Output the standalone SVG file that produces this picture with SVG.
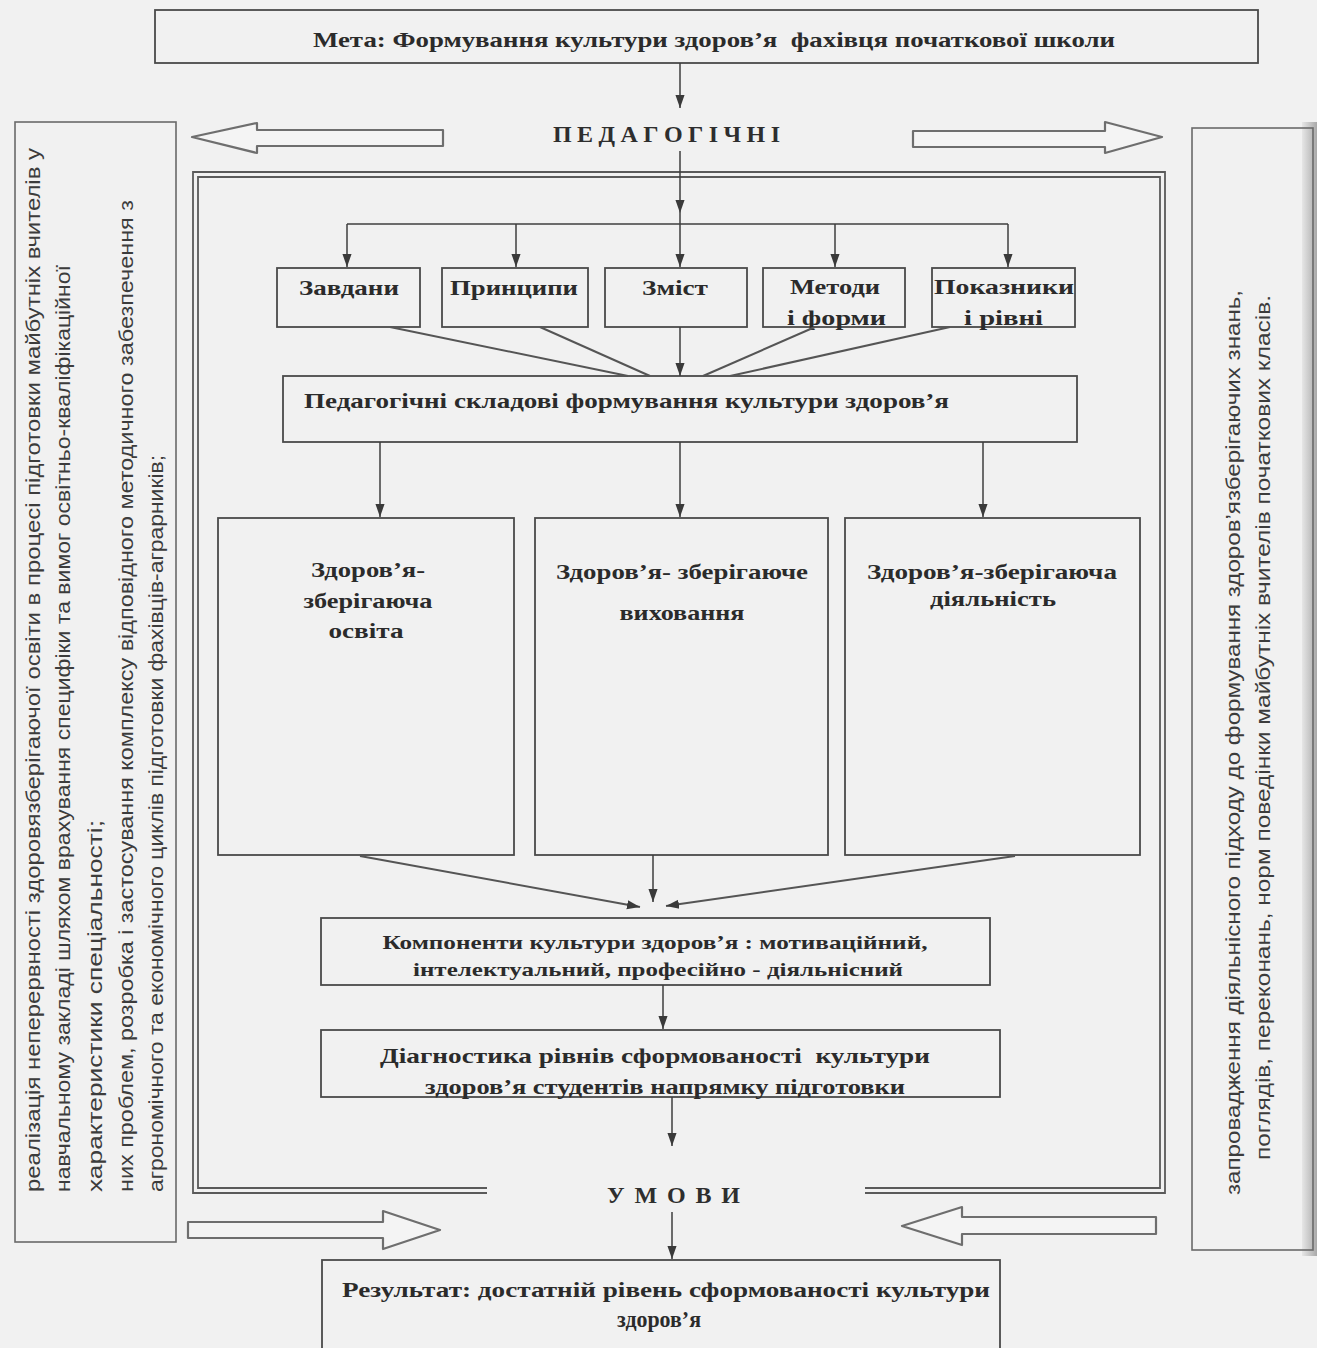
<svg xmlns="http://www.w3.org/2000/svg" width="1317" height="1348" viewBox="0 0 1317 1348">
<defs>
<marker id="ah" viewBox="0 0 10 10" refX="10" refY="5" markerWidth="13" markerHeight="13" orient="auto" markerUnits="userSpaceOnUse">
<path d="M0,1.5 L10,5 L0,8.5 z" fill="#3a3a3a"/>
</marker>
<linearGradient id="edge" x1="0" y1="0" x2="1" y2="0">
<stop offset="0" stop-color="#e6e6e6"/>
<stop offset="1" stop-color="#a9a9a9"/>
</linearGradient>
<style>
.bg{fill:#f1f1f1}
.box{fill:none;stroke:#4a4a4a;stroke-width:1.8}
.sbox{fill:none;stroke:#6a6a6a;stroke-width:1.6}
.frame{fill:none;stroke:#5a5a5a;stroke-width:1.8}
.ln{fill:none;stroke:#3e3e3e;stroke-width:1.5}
.sl{fill:none;stroke:#555;stroke-width:2}
.ha{fill:#f4f4f4;stroke:#6e6e6e;stroke-width:2.2;stroke-linejoin:round}
.t{font-family:"Liberation Serif","Times New Roman",serif;font-weight:bold;font-size:22px;fill:#2b2b2b}
.ts{font-family:"Liberation Serif","Times New Roman",serif;font-weight:bold;font-size:19px;fill:#2b2b2b}
.sp{font-family:"Liberation Serif","Times New Roman",serif;font-weight:bold;font-size:24px;fill:#2e2e2e}
.v{font-family:"Liberation Sans",Arial,sans-serif;font-size:20px;fill:#3c3c3c}
.vr{font-family:"Liberation Sans Narrow","Liberation Sans",Arial,sans-serif;font-size:20px;fill:#3c3c3c}
</style>
</defs>
<rect class="bg" x="0" y="0" width="1317" height="1348"/>
<rect x="1302" y="122" width="15" height="1134" fill="url(#edge)"/>

<g id="frame">
<path class="frame" d="M487,1193 H193 V172 H1165 V1193 H865"/>
<path class="frame" d="M487,1188 H198 V177 H1160 V1188 H865" stroke-width="1.3"/>
</g>

<g id="goal">
<rect class="box" x="155" y="10" width="1103" height="53"/>
<text class="t" x="313" y="47" textLength="802" lengthAdjust="spacingAndGlyphs" xml:space="preserve">Мета: Формування культури здоров’я  фахівця початкової школи</text>
</g>

<g id="pedagogichni">
<text class="sp" x="553" y="142" textLength="227" lengthAdjust="spacing">П Е Д А Г О Г І Ч Н І</text>
</g>

<g id="umovy">
<text class="sp" x="607" y="1203" textLength="133" lengthAdjust="spacing">У М О В И</text>
</g>

<g id="left-note">
<rect class="sbox" x="15" y="122" width="161" height="1120"/>
<text class="v" transform="translate(40,1192) rotate(-90)" textLength="1044" lengthAdjust="spacingAndGlyphs">реалізація неперервності здоровязберігаючої освіти в процесі підготовки майбутніх вчителів у</text>
<text class="v" transform="translate(70,1192) rotate(-90)" textLength="927" lengthAdjust="spacingAndGlyphs">навчальному закладі шляхом врахування специфіки та вимог освітньо-кваліфікаційної</text>
<text class="v" transform="translate(102,1192) rotate(-90)" textLength="372" lengthAdjust="spacingAndGlyphs">характеристики спеціальності;</text>
<text class="v" transform="translate(133,1192) rotate(-90)" textLength="992" lengthAdjust="spacingAndGlyphs">них проблем, розробка і застосування комплексу відповідного методичного забезпечення з</text>
<text class="v" transform="translate(163,1192) rotate(-90)" textLength="737" lengthAdjust="spacingAndGlyphs">агрономічного та економічного циклів підготовки фахівців-аграрників;</text>
</g>

<g id="right-note">
<rect class="sbox" x="1192" y="128" width="121" height="1122"/>
<text class="vr" transform="translate(1240,1195) rotate(-90)" textLength="905" lengthAdjust="spacingAndGlyphs">запровадження діяльнісного підходу до формування здоров’язберігаючих знань,</text>
<text class="vr" transform="translate(1270,1160) rotate(-90)" textLength="865" lengthAdjust="spacingAndGlyphs">поглядів, переконань, норм поведінки майбутніх вчителів початкових класів.</text>
</g>

<g id="zavdannia">
<rect class="box" x="277" y="268" width="143" height="59"/>
<text class="t" x="299" y="295" textLength="100" lengthAdjust="spacingAndGlyphs">Завдани</text>
</g>
<g id="pryntsypy">
<rect class="box" x="442" y="268" width="146" height="59"/>
<text class="t" x="450" y="295" textLength="128" lengthAdjust="spacingAndGlyphs">Принципи</text>
</g>
<g id="zmist">
<rect class="box" x="605" y="268" width="142" height="59"/>
<text class="t" x="642" y="295" textLength="66" lengthAdjust="spacingAndGlyphs">Зміст</text>
</g>
<g id="metody">
<rect class="box" x="763" y="268" width="142" height="59"/>
<text class="t" x="790" y="294" textLength="90" lengthAdjust="spacingAndGlyphs">Методи</text>
<text class="t" x="787" y="325" textLength="99" lengthAdjust="spacingAndGlyphs">і форми</text>
</g>
<g id="pokaznyky">
<rect class="box" x="932" y="268" width="143" height="59"/>
<text class="t" x="934" y="294" textLength="140" lengthAdjust="spacingAndGlyphs">Показники</text>
<text class="t" x="964" y="325" textLength="79" lengthAdjust="spacingAndGlyphs">і рівні</text>
</g>

<g id="skladovi">
<rect class="box" x="283" y="376" width="794" height="66"/>
<text class="t" x="304" y="408" textLength="645" lengthAdjust="spacingAndGlyphs">Педагогічні складові формування культури здоров’я</text>
</g>

<g id="osvita">
<rect class="box" x="218" y="518" width="296" height="337"/>
<text class="t" x="368" y="577" text-anchor="middle" textLength="114" lengthAdjust="spacingAndGlyphs">Здоров’я-</text>
<text class="t" x="368" y="608" text-anchor="middle" textLength="129" lengthAdjust="spacingAndGlyphs">зберігаюча</text>
<text class="t" x="366" y="638" text-anchor="middle" textLength="75" lengthAdjust="spacingAndGlyphs">освіта</text>
</g>
<g id="vykhovannia">
<rect class="box" x="535" y="518" width="293" height="337"/>
<text class="t" x="682" y="579" text-anchor="middle" textLength="252" lengthAdjust="spacingAndGlyphs">Здоров’я- зберігаюче</text>
<text class="t" x="682" y="620" text-anchor="middle" textLength="125" lengthAdjust="spacingAndGlyphs">виховання</text>
</g>
<g id="diialnist">
<rect class="box" x="845" y="518" width="295" height="337"/>
<text class="t" x="992" y="579" text-anchor="middle" textLength="250" lengthAdjust="spacingAndGlyphs">Здоров’я-зберігаюча</text>
<text class="t" x="993" y="606" text-anchor="middle" textLength="126" lengthAdjust="spacingAndGlyphs">діяльність</text>
</g>

<g id="komponenty">
<rect class="box" x="321" y="918" width="669" height="67"/>
<text class="ts" x="655" y="949" text-anchor="middle" textLength="545" lengthAdjust="spacingAndGlyphs">Компоненти культури здоров’я : мотиваційний,</text>
<text class="ts" x="658" y="976" text-anchor="middle" textLength="490" lengthAdjust="spacingAndGlyphs">інтелектуальний, професійно - діяльнісний</text>
</g>

<g id="diagnostyka">
<rect class="box" x="321" y="1030" width="679" height="67"/>
<text class="t" x="655" y="1063" text-anchor="middle" textLength="550" lengthAdjust="spacingAndGlyphs" xml:space="preserve">Діагностика рівнів сформованості  культури</text>
<text class="t" x="665" y="1094" text-anchor="middle" textLength="480" lengthAdjust="spacingAndGlyphs">здоров’я студентів напрямку підготовки</text>
</g>

<g id="rezultat">
<rect class="box" x="322" y="1260" width="678" height="110"/>
<text class="t" x="666" y="1297" text-anchor="middle" textLength="648" lengthAdjust="spacingAndGlyphs">Результат: достатній рівень сформованості культури</text>
<text class="t" x="659" y="1327" text-anchor="middle" style="font-size:23px" textLength="84" lengthAdjust="spacingAndGlyphs">здоров’я</text>
</g>

<g id="connectors">
<polygon class="ha" points="192,137 257,123 257,130 443,130 443,146 257,146 257,153"/>
<polygon class="ha" points="913,131 1105,131 1105,122 1162,137 1105,153 1105,147 913,147"/>
<polygon class="ha" points="188,1222 383,1222 383,1211 440,1230 383,1249 383,1238 188,1238"/>
<polygon class="ha" points="1156,1217 962,1217 962,1207 902,1226 962,1245 962,1234 1156,1234"/>

<line class="ln" x1="680" y1="63" x2="680" y2="108" marker-end="url(#ah)"/>
<line class="ln" x1="680" y1="151" x2="680" y2="213" marker-end="url(#ah)"/>
<path class="ln" d="M347,224 H1008"/>
<line class="ln" x1="347" y1="224" x2="347" y2="267" marker-end="url(#ah)"/>
<line class="ln" x1="516" y1="224" x2="516" y2="267" marker-end="url(#ah)"/>
<line class="ln" x1="680" y1="213" x2="680" y2="267" marker-end="url(#ah)"/>
<line class="ln" x1="835" y1="224" x2="835" y2="267" marker-end="url(#ah)"/>
<line class="ln" x1="1008" y1="224" x2="1008" y2="267" marker-end="url(#ah)"/>

<line class="sl" x1="390" y1="327" x2="628" y2="376"/>
<line class="sl" x1="540" y1="327" x2="650" y2="376"/>
<line class="ln" x1="680" y1="327" x2="680" y2="376" marker-end="url(#ah)"/>
<line class="sl" x1="815" y1="327" x2="703" y2="376"/>
<line class="sl" x1="950" y1="327" x2="730" y2="376"/>

<line class="ln" x1="380" y1="442" x2="380" y2="517" marker-end="url(#ah)"/>
<line class="ln" x1="680" y1="442" x2="680" y2="517" marker-end="url(#ah)"/>
<line class="ln" x1="983" y1="442" x2="983" y2="517" marker-end="url(#ah)"/>

<line class="sl" x1="360" y1="856" x2="640" y2="907" marker-end="url(#ah)"/>
<line class="ln" x1="653" y1="855" x2="653" y2="902" marker-end="url(#ah)"/>
<line class="sl" x1="1015" y1="856" x2="666" y2="906" marker-end="url(#ah)"/>

<line class="ln" x1="663" y1="985" x2="663" y2="1029" marker-end="url(#ah)"/>
<line class="ln" x1="672" y1="1097" x2="672" y2="1146" marker-end="url(#ah)"/>
<line class="ln" x1="672" y1="1212" x2="672" y2="1259" marker-end="url(#ah)"/>
</g>
</svg>
